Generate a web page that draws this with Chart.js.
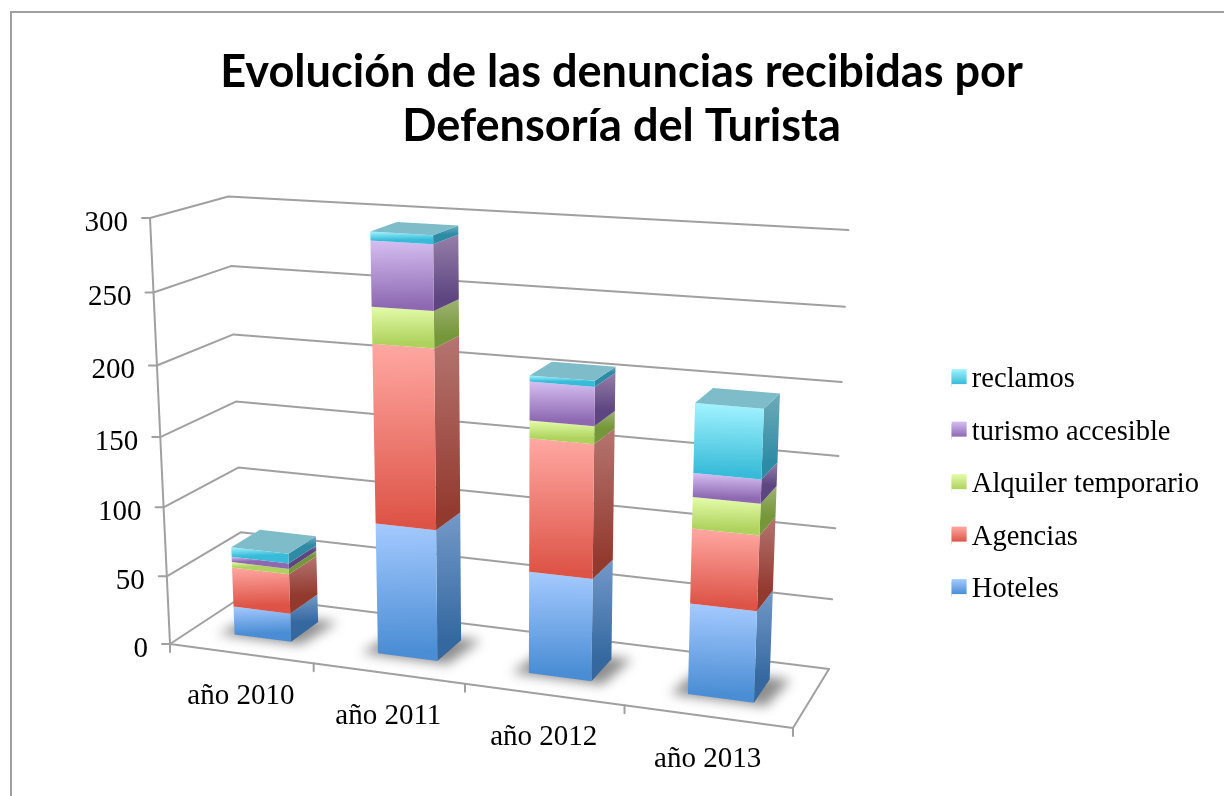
<!DOCTYPE html>
<html>
<head>
<meta charset="utf-8">
<title>Denuncias</title>
<style>
  html, body { margin: 0; background: #fff; }
  canvas { display: block; }
</style>
</head>
<body>
<canvas id="myChart" width="1224" height="796"></canvas>
<script src="https://cdn.jsdelivr.net/npm/chart.js@4"></script>
<script>
  var years = ['año 2010', 'año 2011', 'año 2012', 'año 2013'];
  var hoteles = [21, 94, 72, 63];
  var agencias = [29, 125, 92, 51];
  var alquiler = [4, 25, 12, 21];
  var accesible = [4, 44, 26, 16];
  var reclamos = [7, 6, 4, 46];
  var yTicks = [0, 50, 100, 150, 200, 250, 300];

  // colores de cada serie: frente arriba, frente abajo, lado arriba, lado abajo
  var hotelesCol = ['#a5caff', '#4a8dd4', '#7399c9', '#34689f'];
  var agenciasCol = ['#ffa8a2', '#dd5447', '#b57571', '#933a2f'];
  var alquilerCol = ['#e4fcaa', '#aed25d', '#9fb272', '#75973a'];
  var accesibleCol = ['#d5bef1', '#8e69b2', '#967fa9', '#5c4580'];
  var reclamosCol = ['#a2f3ff', '#37bbd8', '#6fabb9', '#2e8ba5'];
  var topCol = '#7dbcc8';
  var gridCol = '#a0a0a0';

  // esquinas del piso y arista vertical izquierda, en la imagen
  var floorQuad = [[170, 644], [793, 728], [829, 669], [243, 596]];
  var axisTop = [150, 218];
  var perspT = -0.0555;
  var depthNear = 0.3, depthFar = 0.7;

  function makeCamera(q) {
    var dx1 = q[1][0] - q[2][0], dx2 = q[3][0] - q[2][0], sx = q[0][0] - q[1][0] + q[2][0] - q[3][0];
    var dy1 = q[1][1] - q[2][1], dy2 = q[3][1] - q[2][1], sy = q[0][1] - q[1][1] + q[2][1] - q[3][1];
    var den = dx1 * dy2 - dx2 * dy1;
    var g = (sx * dy2 - dx2 * sy) / den;
    var h = (dx1 * sy - sx * dy1) / den;
    var a = q[1][0] - q[0][0] + g * q[1][0], b = q[3][0] - q[0][0] + h * q[3][0];
    var d = q[1][1] - q[0][1] + g * q[1][1], e = q[3][1] - q[0][1] + h * q[3][1];
    var cx = axisTop[0] * (1 + perspT) - q[0][0], cy = axisTop[1] * (1 + perspT) - q[0][1];
    // u: fraccion del eje x, w: profundidad, t: fraccion del eje y
    return function (u, w, t) {
      var z = g * u + h * w + perspT * t + 1;
      return [(a * u + b * w + cx * t + q[0][0]) / z, (d * u + e * w + cy * t + q[0][1]) / z];
    };
  }
  var project = makeCamera(floorQuad);

  function poly(ctx, pts, fill) {
    ctx.beginPath();
    pts.forEach(function (p, i) { i ? ctx.lineTo(p[0], p[1]) : ctx.moveTo(p[0], p[1]); });
    ctx.closePath();
    ctx.fillStyle = fill;
    ctx.fill();
  }

  function line(ctx, pts) {
    ctx.beginPath();
    pts.forEach(function (p, i) { i ? ctx.lineTo(p[0], p[1]) : ctx.moveTo(p[0], p[1]); });
    ctx.stroke();
  }

  function grad(ctx, a, b, c1, c2) {
    var g = ctx.createLinearGradient(a[0], a[1], b[0], b[1]);
    g.addColorStop(0, c1);
    g.addColorStop(1, c2);
    return g;
  }

  var box3d = {
    id: 'box3d',
    beforeDatasetsDraw: function (chart) {
      var ctx = chart.ctx, xs = chart.scales.x, ys = chart.scales.y;
      var fu = function (px) { return (px - xs.left) / xs.width; };
      var ft = function (py) { return (ys.bottom - py) / ys.height; };

      ctx.save();
      // marco
      ctx.strokeStyle = '#a0a0a0';
      ctx.lineWidth = 2;
      line(ctx, [[11, 796], [11, 12], [1224, 12]]);

      // rejilla y ejes
      ctx.strokeStyle = gridCol;
      ctx.lineCap = 'round';
      ctx.lineJoin = 'round';
      ctx.font = '29px "Liberation Serif"';
      ctx.fillStyle = '#000';
      ctx.textAlign = 'right';
      ctx.textBaseline = 'middle';
      ys.ticks.forEach(function (tk) {
        var t = ft(ys.getPixelForValue(tk.value));
        var p0 = project(0, 0, t);
        line(ctx, [[p0[0] - 8, p0[1]], p0, project(0, 1, t), project(1, 1, t)]);
        ctx.fillText(tk.label, p0[0] - 22, p0[1] + 5);
      });
      line(ctx, [project(0, 0, 1), project(0, 0, 0), project(1, 0, 0), project(1, 1, 0)]);
      ctx.textAlign = 'center';
      for (var c = 0; c <= years.length; c++) {
        var edge = c === 0 ? xs.left : c === years.length ? xs.right : (xs.getPixelForValue(c - 1) + xs.getPixelForValue(c)) / 2;
        var e0 = project(fu(edge), 0, 0);
        line(ctx, [e0, [e0[0], e0[1] + 8]]);
      }
      years.forEach(function (label, i) {
        var p = project(fu(xs.getPixelForValue(i)), 0, 0);
        ctx.fillText(label, p[0], p[1] + 43);
      });

      // barras
      var last = chart.data.datasets.length - 1;
      years.forEach(function (label, i) {
        var first = chart.getDatasetMeta(0).data[i];
        var u0 = fu(first.x - first.width / 2), u1 = fu(first.x + first.width / 2);

        // sombra
        ctx.save();
        ctx.filter = 'blur(6px)';
        poly(ctx, [
          project(u0 - 0.025, depthNear - 0.03, 0), project(u1 + 0.02, depthNear - 0.03, 0),
          project(u1 + 0.03, depthFar + 0.04, 0), project(u0 - 0.01, depthFar + 0.04, 0)
        ], 'rgba(50,50,50,0.55)');
        ctx.restore();

        chart.data.datasets.forEach(function (ds, j) {
          var bar = chart.getDatasetMeta(j).data[i];
          var t0 = ft(bar.base), t1 = ft(bar.y);
          var fl = project(u0, depthNear, t0), fr = project(u1, depthNear, t0);
          var tl = project(u0, depthNear, t1), tr = project(u1, depthNear, t1);
          var br = project(u1, depthFar, t0), brt = project(u1, depthFar, t1);
          var cols = ds.faceColors;
          poly(ctx, [fr, br, brt, tr], grad(ctx, brt, br, cols[2], cols[3]));
          poly(ctx, [fl, fr, tr, tl], grad(ctx, tl, fl, cols[0], cols[1]));
          if (j === last) {
            poly(ctx, [tl, tr, brt, project(u0, depthFar, t1)], topCol);
          }
        });
      });
      ctx.restore();
      return false;
    },
    afterDraw: function (chart) {
      // muestras de la leyenda con degradado
      var ctx = chart.ctx, lg = chart.legend;
      lg.legendItems.forEach(function (item, i) {
        var hit = lg.legendHitBoxes[i];
        var cols = chart.data.datasets[item.datasetIndex].faceColors;
        var y = hit.top + (hit.height - 15) / 2;
        ctx.fillStyle = '#fff';
        ctx.fillRect(hit.left, y - 2, 15, 19);
        y -= 3;
        ctx.fillStyle = grad(ctx, [0, y], [0, y + 15], cols[0], cols[1]);
        ctx.fillRect(hit.left, y, 15, 15);
      });
    }
  };

  var ctx = document.getElementById('myChart');

  var myChart = new Chart(ctx, {
    type: 'bar',
    plugins: [box3d],
    data: {
      labels: years,
      datasets: [
        { label: 'Hoteles', data: hoteles, backgroundColor: hotelesCol[1], faceColors: hotelesCol },
        { label: 'Agencias', data: agencias, backgroundColor: agenciasCol[1], faceColors: agenciasCol },
        { label: 'Alquiler temporario', data: alquiler, backgroundColor: alquilerCol[1], faceColors: alquilerCol },
        { label: 'turismo accesible', data: accesible, backgroundColor: accesibleCol[1], faceColors: accesibleCol },
        { label: 'reclamos', data: reclamos, backgroundColor: reclamosCol[1], faceColors: reclamosCol }
      ]
    },
    options: {
      responsive: false,
      animation: false,
      categoryPercentage: 0.4,
      barPercentage: 1,
      layout: { padding: { left: 34, right: 15, top: 0, bottom: 0 } },
      scales: {
        x: { display: false, stacked: true },
        y: { display: false, stacked: true, min: 0, max: 300, afterBuildTicks: function (axis) {
          axis.ticks = yTicks.map(function (v) { return { value: v, label: String(v) }; });
        } }
      },
      plugins: {
        title: {
          display: true,
          text: ['Evolución de las denuncias recibidas por', 'Defensoría del Turista'],
          color: '#000',
          font: { family: 'Lato', size: 45.1, weight: 'bold', lineHeight: 1.2 },
          padding: { top: 45, bottom: 20 }
        },
        legend: {
          position: 'right',
          fullSize: false,
          reverse: true,
          labels: {
            color: '#000',
            boxWidth: 6,
            boxHeight: 15,
            padding: 24,
            font: { family: 'Liberation Serif', size: 28.5 }
          }
        },
        tooltip: { enabled: false }
      }
    }
  });
</script>
</body>
</html>
